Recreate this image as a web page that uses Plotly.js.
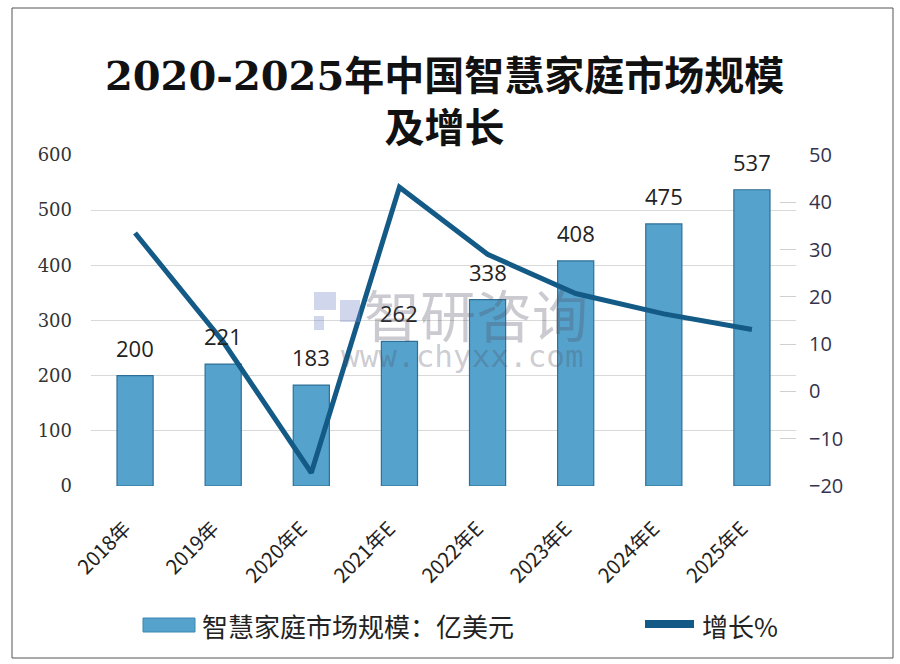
<!DOCTYPE html>
<html><head><meta charset="utf-8">
<script src="https://cdn.plot.ly/plotly-3.0.1.min.js"></script>
<style>body{margin:0;background:#fff}#chart{width:900px;height:664px}</style>
</head><body><div id="chart"></div>
<script>
const categories = ["2018年","2019年","2020年E","2021年E","2022年E","2023年E","2024年E","2025年E"];
const marketSize = [200,221,183,262,338,408,475,537];
const growth = [33.5,10.5,-17.2,43.2,29.0,20.7,16.4,13.1];
const sizeName = "智慧家庭市场规模：亿美元";
const growthName = "增长%";

const cjk = "'Noto Sans CJK SC', sans-serif";
const traces = [
  {type:'bar', x:categories, y:marketSize, name:sizeName, width:0.41,
   marker:{color:'#55a3cd', line:{color:'#2f6f96', width:1.2}}, hoverinfo:'skip'},
  {type:'scatter', mode:'lines', x:categories, y:growth, yaxis:'y2', name:growthName,
   line:{color:'#145a86', width:5}}
];
const labelAnnotations = categories.map((c,i)=>({
  x:c, y:marketSize[i], xref:'x', yref:'y', text:String(marketSize[i]), showarrow:false,
  yshift:28, font:{family:"'Open Sans', sans-serif", size:22, color:'#222'}
}));
const W = 705, H = 331, L = 91, T = 155;
const px = x => (x - L) / W;
const py = y => (T + H - y) / H;
const layout = {
  width:900, height:664, paper_bgcolor:'#fff', plot_bgcolor:'#fff',
  margin:{l:91, r:104, t:155, b:178},
  title:{text:"2020-2025年中国智慧家庭市场规模<br>及增长", x:0.494, xanchor:'center', yref:'container', y:0.865, yanchor:'top',
    font:{family:"'DejaVu Serif', 'Noto Sans CJK SC', serif", size:40, color:'#111', weight:'bold'}},
  xaxis:{tickangle:-45, tickfont:{family:cjk, size:20, color:'#222'}, showgrid:false, zeroline:false,
    showline:false, ticks:'', ticklabelstandoff:26, ticklabelshift:-10},
  yaxis:{range:[0,600], dtick:100, showgrid:true, gridcolor:'#d9d9d9', gridwidth:1, zeroline:false,
    tickfont:{family:"'DejaVu Serif', serif", size:18, color:'#333'}, ticks:'', ticklabelstandoff:18},
  yaxis2:{overlaying:'y', side:'right', range:[-20,50], dtick:10, showgrid:false, zeroline:false,
    ticks:'inside', ticklen:16, tickcolor:'#d0d0d0',
    tickfont:{family:"'Open Sans', sans-serif", size:20, color:'#33334d'}, ticklabelstandoff:12},
  showlegend:false,
  shapes:[
    {type:'rect', xref:'paper', yref:'paper', x0:px(12), x1:px(893), y0:py(658), y1:py(8),
     line:{color:'#555', width:1}},
    {type:'rect', xref:'paper', yref:'paper', x0:px(143), x1:px(195), y0:py(632), y1:py(618),
     fillcolor:'#55a3cd', line:{color:'#3f86b0', width:1}},
    {type:'line', xref:'paper', yref:'paper', x0:px(645), x1:px(694), y0:py(624), y1:py(624),
     line:{color:'#145a86', width:8}},
    {type:'rect', xref:'paper', yref:'paper', x0:px(314), x1:px(336), y0:py(310), y1:py(292),
     fillcolor:'rgba(120,140,200,0.35)', line:{width:0}},
    {type:'rect', xref:'paper', yref:'paper', x0:px(340), x1:px(360), y0:py(322), y1:py(300),
     fillcolor:'rgba(120,140,200,0.35)', line:{width:0}},
    {type:'rect', xref:'paper', yref:'paper', x0:px(314), x1:px(324), y0:py(330), y1:py(316),
     fillcolor:'rgba(120,140,200,0.35)', line:{width:0}}
  ],
  annotations:labelAnnotations.concat([
    {xref:'paper', yref:'paper', x:px(200), xanchor:'left', y:py(625), yanchor:'middle', text:sizeName, showarrow:false,
     font:{family:cjk, size:26, color:'#222'}},
    {xref:'paper', yref:'paper', x:px(700), xanchor:'left', y:py(625), yanchor:'middle', text:growthName, showarrow:false,
     font:{family:cjk, size:26, color:'#222'}},
    {xref:'paper', yref:'paper', x:px(476), y:py(312), yanchor:'middle', text:"智研咨询", showarrow:false,
     font:{family:cjk, size:56, color:'rgba(80,80,100,0.30)'}},
    {xref:'paper', yref:'paper', x:px(462), y:py(356), yanchor:'middle', text:"www.chyxx.com", showarrow:false,
     font:{family:"'DejaVu Sans Mono', monospace", size:31, color:'rgba(80,80,100,0.30)'}}
  ])
};
Plotly.newPlot('chart', traces, layout, {displayModeBar:false});
</script></body></html>
